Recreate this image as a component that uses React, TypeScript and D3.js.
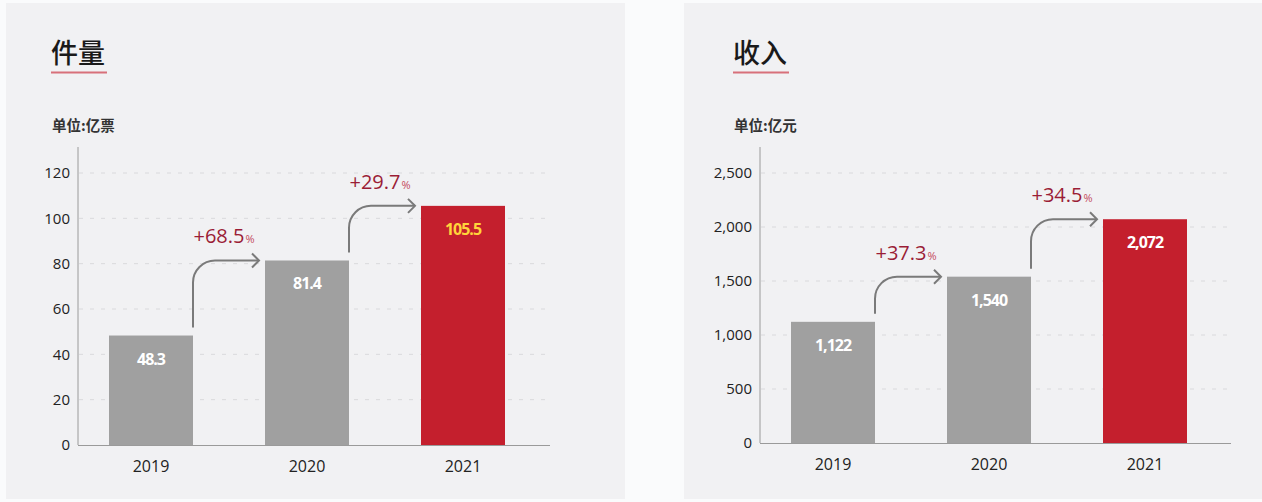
import React, { useEffect, useRef } from "react";
import * as d3 from "d3";

// data
const years = ["2019", "2020", "2021"];
const volumeValues = [48.3, 81.4, 105.5];
const volumeLabels = ["48.3", "81.4", "105.5"];
const volumeGrowth = ["+68.5", "+29.7"];
const volumeTicks = [0, 20, 40, 60, 80, 100, 120];

const revenueValues = [1122, 1540, 2072];
const revenueLabels = ["1,122", "1,540", "2,072"];
const revenueGrowth = ["+37.3", "+34.5"];
const revenueTicks = [0, 500, 1000, 1500, 2000, 2500];

const NUM_FONT = "'Open Sans', 'Noto Sans', sans-serif";
const CJK_FONT = "'Noto Sans CJK SC', sans-serif";

function drawPanel(svg, opts) {
  const { left, panelX, panelW, title, unit, values, labels, growth, ticks, maxY, fmt, lastLabelColor, gridEnd } = opts;
  const g = svg.append("g");

  g.append("rect")
    .attr("x", panelX).attr("y", 3)
    .attr("width", panelW).attr("height", 496)
    .attr("fill", "#f1f1f3");

  // title + underline
  g.append("text")
    .attr("x", left - 27).attr("y", 63)
    .attr("font-family", CJK_FONT).attr("font-size", 27).attr("font-weight", 500)
    .attr("fill", "#1a1a1a")
    .text(title);
  g.append("line")
    .attr("x1", left - 27).attr("x2", left + 29)
    .attr("y1", 72.5).attr("y2", 72.5)
    .attr("stroke", "#d8707a").attr("stroke-width", 2);

  g.append("text")
    .attr("x", left - 26).attr("y", 131)
    .attr("font-family", CJK_FONT).attr("font-size", 14.5).attr("font-weight", 600)
    .attr("fill", "#333")
    .text(unit);

  const y = d3.scaleLinear().domain([0, maxY]).range([opts.bottom, 173]);
  const x = d3.scaleBand()
    .domain(years)
    .range([left, left + 458])
    .paddingInner(72 / 156)
    .paddingOuter(31 / 156);

  // dashed gridlines
  g.selectAll(".grid")
    .data(ticks.filter(t => t > 0))
    .enter().append("line")
    .attr("x1", left + 1).attr("x2", gridEnd)
    .attr("y1", d => y(d)).attr("y2", d => y(d))
    .attr("stroke", "#d9d9dc").attr("stroke-width", 1)
    .attr("stroke-dasharray", "4,7");

  // y axis
  const yAxis = g.append("g")
    .attr("transform", `translate(${left},0)`)
    .call(d3.axisLeft(y).tickValues(ticks).tickSize(0).tickPadding(8).tickFormat(fmt));
  yAxis.select(".domain").remove();
  yAxis.selectAll("text")
    .attr("font-family", NUM_FONT).attr("font-size", 15).attr("fill", "#222");
  g.append("line")
    .attr("x1", left).attr("x2", left)
    .attr("y1", 147).attr("y2", opts.bottom)
    .attr("stroke", "#9a9a9a");

  // bars
  g.selectAll(".bar")
    .data(values)
    .enter().append("rect")
    .attr("x", (d, i) => x(years[i]))
    .attr("y", d => y(d))
    .attr("width", x.bandwidth())
    .attr("height", d => opts.bottom - y(d))
    .attr("fill", (d, i) => (i === values.length - 1 ? "#c41f2d" : "#a0a0a0"));

  // x axis
  const xAxis = g.append("g")
    .attr("transform", `translate(0,${opts.bottom})`)
    .call(d3.axisBottom(x).tickSize(0).tickPadding(16));
  xAxis.select(".domain").remove();
  xAxis.selectAll("text")
    .attr("font-family", NUM_FONT).attr("font-size", 16).attr("fill", "#222");
  g.append("line")
    .attr("x1", left).attr("x2", gridEnd)
    .attr("y1", opts.bottom + 0.5).attr("y2", opts.bottom + 0.5)
    .attr("stroke", "#9a9a9a");

  // value labels
  g.selectAll(".val")
    .data(labels)
    .enter().append("text")
    .attr("x", (d, i) => x(years[i]) + x.bandwidth() / 2)
    .attr("y", (d, i) => y(values[i]) + 29)
    .attr("text-anchor", "middle")
    .attr("font-family", NUM_FONT).attr("font-size", 16).attr("font-weight", 700)
    .attr("letter-spacing", -1)
    .attr("fill", (d, i) => (i === labels.length - 1 ? lastLabelColor : "#ffffff"))
    .text(d => d);

  // growth arrows
  growth.forEach((gr, i) => {
    const sx = x(years[i]) + x.bandwidth();
    const sy = y(values[i]) - 8;
    const ey = y(values[i + 1]);
    const ex = x(years[i + 1]) - 6;
    const r = 22;
    const path = d3.path();
    path.moveTo(sx, sy);
    path.lineTo(sx, ey + r);
    path.arcTo(sx, ey, sx + r, ey, r);
    path.lineTo(ex, ey);
    g.append("path")
      .attr("d", path.toString())
      .attr("fill", "none").attr("stroke", "#7a7a7a").attr("stroke-width", 2);
    g.append("path")
      .attr("d", `M${ex - 7},${ey - 7}L${ex},${ey}L${ex - 7},${ey + 7}`)
      .attr("fill", "none").attr("stroke", "#7a7a7a").attr("stroke-width", 2);

    const t = g.append("text")
      .attr("x", (sx + ex) / 2 - 2).attr("y", ey - 17)
      .attr("text-anchor", "middle")
      .attr("font-family", NUM_FONT).attr("fill", "#9b1d36");
    t.append("tspan").attr("font-size", 20).text(gr);
    t.append("tspan").attr("font-size", 11).attr("dx", 1).attr("fill", "#c44a5c").text("%");
  });
}

export default function App() {
  const ref = useRef(null);

  useEffect(() => {
    const svg = d3.select(ref.current);
    svg.selectAll("*").remove();

    svg.append("rect").attr("width", 1262).attr("height", 502).attr("fill", "#fafbfc");

    drawPanel(svg, {
      left: 78, panelX: 6, panelW: 619, bottom: 445, gridEnd: 550,
      title: "件量", unit: "单位:亿票",
      values: volumeValues, labels: volumeLabels, growth: volumeGrowth,
      ticks: volumeTicks, maxY: 120, fmt: d3.format("d"),
      lastLabelColor: "#ffd43b",
    });

    drawPanel(svg, {
      left: 760, panelX: 684, panelW: 578, bottom: 443, gridEnd: 1231,
      title: "收入", unit: "单位:亿元",
      values: revenueValues, labels: revenueLabels, growth: revenueGrowth,
      ticks: revenueTicks, maxY: 2500, fmt: d3.format(","),
      lastLabelColor: "#ffffff",
    });
  }, []);

  return (
    <div style={{ position: "absolute", left: 0, top: 0 }}>
      <svg ref={ref} width={1262} height={502} style={{ display: "block" }} />
    </div>
  );
}
